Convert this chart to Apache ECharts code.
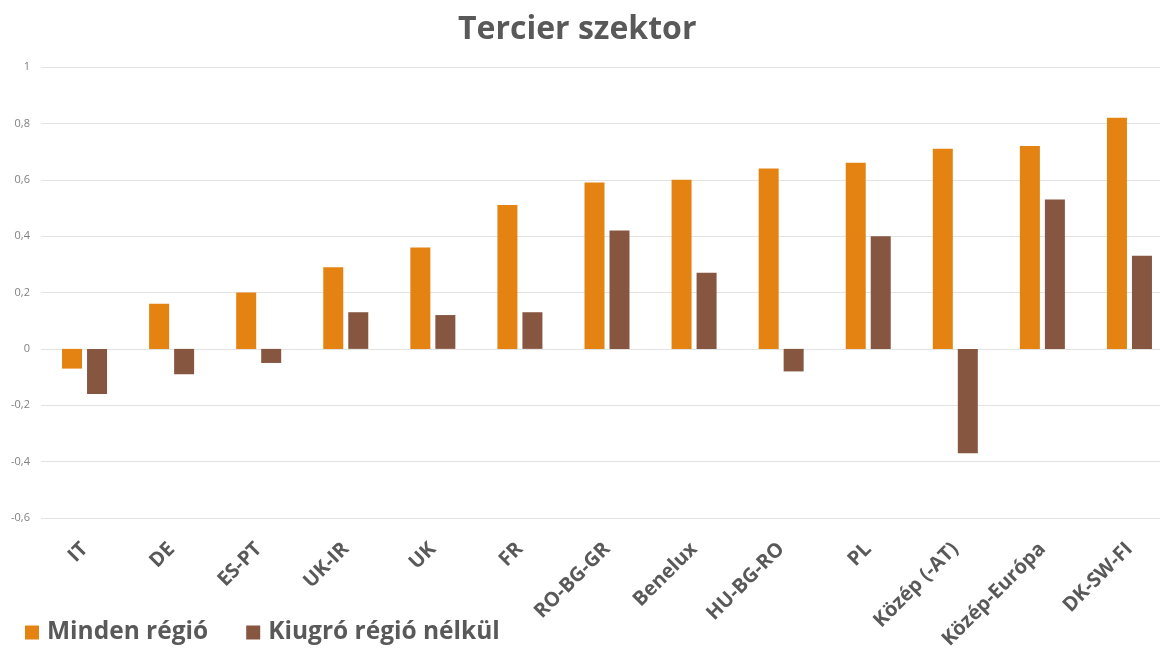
<!DOCTYPE html>
<html>
<head>
<meta charset="utf-8">
<script src="https://cdn.jsdelivr.net/npm/echarts@6/dist/echarts.min.js"></script>
<style>
html,body{margin:0;padding:0;background:#fff;overflow:hidden;width:1160px;height:654px;}
#c{width:1173px;height:654px;}
</style>
</head>
<body>
<div id="c"></div>
<script>
const categories = ["IT","DE","ES-PT","UK-IR","UK","FR","RO-BG-GR","Benelux","HU-BG-RO","PL","Közép (-AT)","Közép-Európa","DK-SW-FI"];
const mindenRegio = [-0.07,0.16,0.20,0.29,0.36,0.51,0.59,0.60,0.64,0.66,0.71,0.72,0.82];
const kiugroNelkul = [-0.16,-0.09,-0.05,0.13,0.12,0.13,0.42,0.27,-0.08,0.40,-0.37,0.53,0.33];
const seriesNames = ["Minden régió","Kiugró régió nélkül"];
const yMin = -0.6, yMax = 1, yStep = 0.2;

const font = '"Open Sans", "Noto Sans", sans-serif';

const chart = echarts.init(document.getElementById('c'));
chart.setOption({
  animation:false,
  backgroundColor:'#fff',
  title:{
    text:'Tercier szektor',
    left:453, top:9,
    textStyle:{fontFamily:font,fontSize:32,fontWeight:'bold',color:'#595959'}
  },
  legend:{
    left:20, top:615,
    itemWidth:14, itemHeight:14, itemGap:38,
    icon:'rect',
    textStyle:{fontFamily:font,fontSize:24.5,fontWeight:'bold',color:'#595959',padding:[0,0,0,3]},
    data:seriesNames
  },
  grid:{left:41,right:0,top:67,bottom:136,containLabel:false},
  xAxis:{
    type:'category',
    data:categories,
    axisLine:{show:false,onZero:false},
    axisTick:{show:false},
    axisLabel:{rotate:45,margin:28,fontFamily:font,fontSize:20,fontWeight:'bold',color:'#595959',interval:0}
  },
  yAxis:{
    type:'value',
    min:yMin,max:yMax,interval:yStep,
    axisLine:{show:false},
    axisTick:{show:false},
    splitLine:{lineStyle:{color:'#e3e3e3',width:1}},
    axisLabel:{
      margin:11,fontFamily:font,fontSize:11,color:'#808080',
      formatter:v=>String(Math.round(v*10)/10).replace('.',',')
    }
  },
  series:[
    {name:seriesNames[0],type:'bar',data:mindenRegio,barWidth:20,barGap:'25%',
     itemStyle:{color:'#E48312'}},
    {name:seriesNames[1],type:'bar',data:kiugroNelkul,barWidth:20,
     itemStyle:{color:'#875640'}}
  ]
});
</script>
</body>
</html>
